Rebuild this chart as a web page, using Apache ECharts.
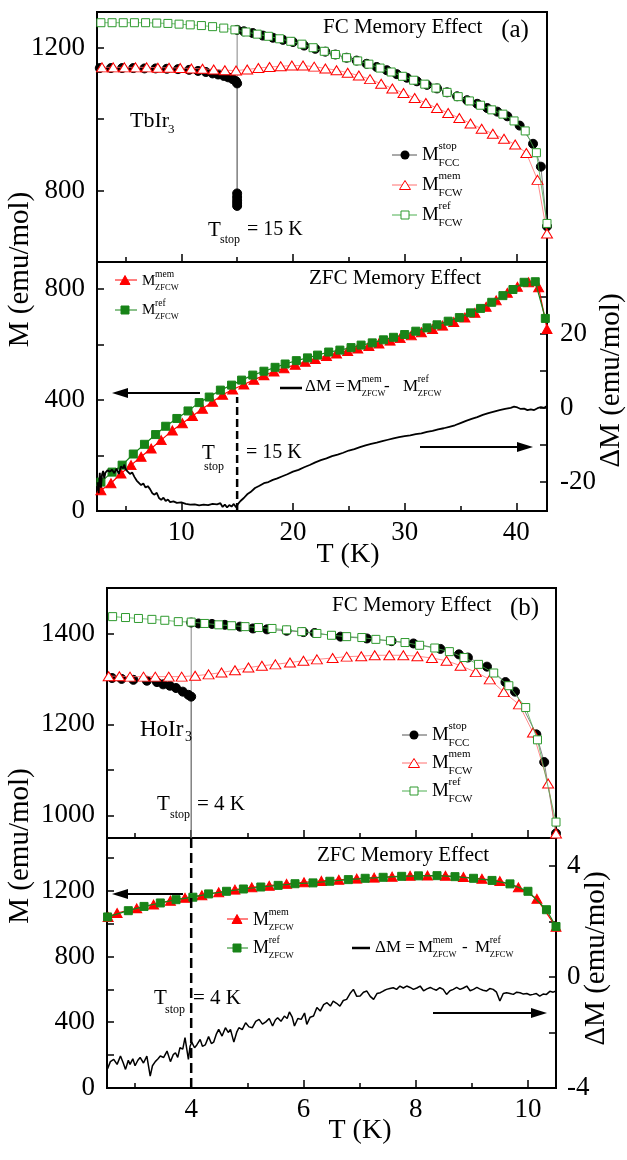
<!DOCTYPE html>
<html>
<head>
<meta charset="utf-8">
<script src="https://cdn.jsdelivr.net/npm/echarts@6/dist/echarts.min.js"></script>
<style>
  html, body { margin: 0; padding: 0; background: #fff; }
  #chart { width: 627px; height: 1160px; }
</style>
</head>
<body>
<div id="chart"></div>
<script>
// ---- panel (a) TbIr3, T in K, M in emu/mol ----
var fccA = [[2.7,1143],[3.7,1143],[4.7,1143],[5.7,1143],[6.7,1142],[7.7,1142],[8.7,1141],[9.7,1140],[10.7,1138],[11.5,1135],[12.2,1132],[12.8,1128],[13.3,1125],[13.8,1121],[14.2,1117],[14.6,1112],[14.9,1106],[15,1100],[15,792],[15,782],[15,773],[15,765],[15,757],[15,1250],[15.6,1246],[16.4,1241],[17.3,1234],[18.2,1228],[19.1,1222],[20.0,1216],[21.0,1206],[22.0,1197],[22.9,1189],[23.8,1181],[24.8,1172],[25.7,1164],[26.6,1155],[27.5,1146],[28.4,1137],[29.3,1126],[30.2,1116],[31.1,1106],[32.0,1096],[32.9,1086],[33.8,1075],[34.7,1064],[35.6,1053],[36.5,1043],[37.4,1031],[38.3,1021],[39.2,1008],[40.3,982],[41.5,931],[42.2,867],[42.75,700]];
var fcwMemA = [[2.9,1145],[3.9,1145],[4.9,1145],[5.9,1145],[6.9,1145],[7.9,1144],[8.9,1144],[9.9,1143],[10.9,1142],[11.9,1141],[12.9,1139],[13.9,1137],[14.9,1136],[15.9,1139],[16.9,1143],[17.9,1146],[18.9,1148],[19.9,1150],[20.9,1150],[21.9,1147],[22.9,1142],[23.9,1137],[24.9,1130],[25.9,1122],[26.9,1112],[27.9,1099],[28.9,1086],[29.9,1073],[30.9,1059],[31.9,1045],[32.9,1031],[33.9,1017],[34.9,1003],[35.9,988],[36.9,973],[37.9,959],[38.9,945],[39.9,929],[40.9,905],[41.9,830],[42.75,680]];
var fcwRefA = [[2.8,1270],[3.8,1270],[4.8,1270],[5.8,1270],[6.8,1270],[7.8,1269],[8.8,1268],[9.8,1266],[10.8,1264],[11.8,1262],[12.8,1259],[13.8,1255],[14.8,1250],[15.8,1244],[16.8,1238],[17.8,1232],[18.8,1225],[19.8,1218],[20.8,1210],[21.8,1200],[22.8,1190],[23.8,1181],[24.8,1172],[25.8,1163],[26.8,1154],[27.8,1143],[28.8,1132],[29.8,1120],[30.8,1109],[31.8,1098],[32.8,1087],[33.8,1075],[34.8,1063],[35.8,1051],[36.8,1039],[37.8,1026],[38.8,1014],[39.8,995],[40.8,967],[41.8,906],[42.75,708]];
var zfcMemA = [[2.8,75],[3.7,100],[4.6,135],[5.5,165],[6.4,195],[7.3,225],[8.2,255],[9.2,290],[10.1,316],[11.0,342],[11.9,368],[12.8,393],[13.7,418],[14.6,437],[15.6,455],[16.5,472],[17.4,488],[18.3,502],[19.2,514],[20.2,526],[21.1,537],[22.0,547],[23.0,558],[23.9,567],[24.9,576],[25.8,585],[26.8,594],[27.7,603],[28.7,613],[29.6,622],[30.6,632],[31.5,643],[32.5,655],[33.4,667],[34.4,680],[35.4,696],[36.3,713],[37.3,735],[38.2,758],[39.2,785],[40.1,807],[41.1,823],[42.0,805],[42.75,655]];
var zfcRefA = [[2.8,104],[3.8,140],[4.7,165],[5.7,205],[6.7,240],[7.7,275],[8.6,305],[9.6,333],[10.6,360],[11.6,390],[12.5,410],[13.5,435],[14.5,453],[15.4,471],[16.4,489],[17.4,503],[18.4,517],[19.3,529],[20.3,541],[21.3,551],[22.2,561],[23.2,572],[24.2,579],[25.2,588],[26.1,597],[27.1,605],[28.1,616],[29.0,625],[30.0,635],[31.0,647],[32.0,659],[32.9,670],[33.9,683],[34.9,696],[35.9,713],[36.8,729],[37.8,751],[38.8,775],[39.7,797],[40.7,823],[41.7,825],[42.6,693]];
var dmA = [[2.5,-20],[2.6,-23],[2.7,-17.5],[2.8,-21.5],[2.9,-18],[3.0,-17],[3.1,-19],[3.2,-17.5],[3.4,-16.8],[3.6,-17.2],[3.8,-16.7],[4.0,-17.6],[4.2,-16.4],[4.4,-17.8],[4.6,-15.8],[4.8,-16.3],[4.9,-15.3],[5.0,-16.5],[5.2,-17.2],[5.4,-17.8],[5.6,-17.4],[5.8,-18.6],[6.0,-19.6],[6.2,-20.2],[6.4,-20.8],[6.6,-20.4],[6.8,-21.5],[7.0,-21.1],[7.2,-21.9],[7.4,-23.0],[7.6,-23.4],[7.8,-22.9],[8.0,-24.3],[8.2,-24.8],[8.4,-24.2],[8.6,-25.1],[8.8,-24.7],[9.0,-25.4],[9.3,-25.2],[9.6,-25.6],[10.0,-25.5],[10.4,-25.9],[10.8,-26.1],[11.2,-26.0],[11.6,-26.3],[12.0,-26.1],[12.4,-26.2],[12.8,-25.9],[13.2,-26.0],[13.5,-25.7],[13.7,-26.7],[13.9,-26.1],[14.1,-26.8],[14.3,-26.2],[14.5,-26.6],[14.7,-25.9],[14.9,-26.8],[15.1,-25.8],[15.3,-25.1],[15.6,-24.3],[15.9,-23.3],[16.2,-22.7],[16.6,-21.6],[17.0,-21.0],[17.4,-20.3],[17.8,-20.0],[18.2,-19.4],[18.6,-19.0],[19.0,-18.5],[19.5,-17.9],[20.0,-17.2],[20.5,-16.7],[21.0,-16.0],[21.5,-15.4],[22.0,-14.7],[22.5,-14.1],[23.0,-13.6],[23.5,-13.0],[24.0,-12.6],[24.5,-12.1],[25.0,-11.5],[25.5,-11.1],[26.0,-10.6],[26.5,-10.1],[27.0,-9.7],[27.5,-9.4],[28.0,-9.0],[28.5,-8.6],[29.0,-8.2],[29.5,-7.9],[30.0,-7.6],[30.5,-7.4],[31.0,-7.1],[31.5,-6.9],[32.0,-6.5],[32.5,-6.2],[33.0,-5.8],[33.5,-5.5],[34.0,-5.1],[34.5,-4.7],[35.0,-4.1],[35.5,-3.5],[36.0,-3.0],[36.5,-2.5],[37.0,-1.9],[37.5,-1.4],[38.0,-1.0],[38.5,-0.6],[39.0,-0.3],[39.5,0.0],[39.8,0.3],[40.1,0.1],[40.4,-0.3],[40.7,-0.2],[41.0,-0.6],[41.3,-0.4],[41.6,-0.6],[41.9,-0.1],[42.2,0.2],[42.5,0.0],[42.75,0.5]];
var stopA = [[15,0],[15,410]];

// ---- panel (b) HoIr3 ----
var fccB = [[2.59,1302],[2.76,1300],[2.97,1298],[3.21,1296],[3.39,1293],[3.5,1288],[3.62,1285],[3.73,1280],[3.85,1272],[3.95,1265],[4.0,1261],[4.0,900],[4.0,1424],[4.13,1422],[4.37,1421],[4.6,1419],[4.87,1415],[5.1,1411],[5.35,1409],[5.7,1406],[6.0,1403],[6.2,1401],[6.66,1393],[7.13,1389],[7.57,1383],[7.96,1378],[8.44,1366],[8.77,1354],[8.93,1347],[9.27,1327],[9.6,1293],[9.77,1272],[10.15,1178],[10.29,1117],[10.5,960]];
var fcwMemB = [[2.53,1306],[2.72,1306],[2.91,1305],[3.15,1305],[3.36,1305],[3.6,1305],[3.83,1305],[4.07,1307],[4.31,1310],[4.54,1314],[4.78,1319],[5.02,1325],[5.26,1329],[5.5,1332],[5.76,1336],[6.0,1340],[6.24,1343],[6.52,1346],[6.77,1349],[7.03,1350],[7.27,1352],[7.53,1352],[7.78,1352],[8.03,1350],[8.29,1346],[8.55,1340],[8.8,1329],[9.07,1315],[9.32,1299],[9.57,1271],[9.84,1244],[10.09,1182],[10.36,1070],[10.5,960]];
var fcwRefB = [[2.6,1437],[2.83,1435],[3.06,1433],[3.3,1431],[3.53,1429],[3.77,1426],[4.0,1425],[4.24,1422],[4.49,1419],[4.72,1417],[4.96,1415],[5.2,1413],[5.44,1411],[5.7,1408],[5.97,1404],[6.24,1400],[6.5,1396],[6.77,1393],[7.04,1391],[7.29,1387],[7.55,1384],[7.81,1380],[8.07,1374],[8.34,1368],[8.6,1360],[8.86,1347],[9.12,1332],[9.39,1313],[9.66,1285],[9.96,1237],[10.17,1166],[10.5,985]];
var zfcMemB = [[2.52,1040],[2.68,1064],[3.03,1092],[3.33,1115],[3.63,1139],[3.89,1156],[4.19,1172],[4.49,1190],[4.78,1206],[5.08,1220],[5.39,1230],[5.7,1241],[6.01,1251],[6.32,1259],[6.63,1266],[6.95,1273],[7.26,1279],[7.58,1285],[7.9,1290],[8.21,1292],[8.53,1290],[8.85,1283],[9.18,1272],[9.5,1258],[9.83,1220],[10.16,1150],[10.5,980]];
var zfcRefB = [[2.51,1040],[2.88,1078],[3.16,1104],[3.45,1125],[3.73,1145],[4.03,1160],[4.31,1180],[4.63,1196],[4.93,1210],[5.24,1222],[5.55,1232],[5.85,1242],[6.17,1247],[6.47,1257],[6.8,1267],[7.1,1275],[7.42,1281],[7.75,1287],[8.05,1290],[8.38,1291],[8.7,1285],[9.03,1275],[9.36,1262],[9.68,1241],[10.0,1196],[10.33,1084],[10.5,982]];
var dmB = [[2.51,-3.31],[2.56,-3.05],[2.62,-2.97],[2.68,-3.15],[2.74,-2.85],[2.79,-3.1],[2.83,-3.33],[2.88,-3.0],[2.91,-3.15],[2.96,-2.95],[3.0,-3.2],[3.05,-3.0],[3.09,-2.9],[3.15,-3.1],[3.21,-2.85],[3.27,-3.57],[3.31,-3.2],[3.36,-3.05],[3.41,-2.95],[3.45,-2.85],[3.51,-2.9],[3.57,-2.67],[3.63,-3.05],[3.68,-2.8],[3.72,-2.73],[3.76,-2.9],[3.8,-2.55],[3.85,-2.6],[3.89,-2.19],[3.95,-2.97],[3.98,-2.5],[4.01,-2.35],[4.06,-2.55],[4.1,-2.45],[4.16,-2.25],[4.2,-2.5],[4.25,-2.45],[4.31,-2.15],[4.36,-2.4],[4.4,-2.35],[4.45,-2.05],[4.49,-1.89],[4.55,-2.13],[4.61,-1.83],[4.66,-2.0],[4.7,-1.89],[4.76,-2.35],[4.81,-2.0],[4.85,-1.83],[4.91,-1.9],[4.97,-1.65],[5.03,-1.8],[5.09,-1.83],[5.15,-1.6],[5.21,-1.53],[5.27,-1.7],[5.33,-1.62],[5.39,-1.5],[5.45,-1.77],[5.5,-1.55],[5.54,-1.47],[5.6,-1.6],[5.66,-1.41],[5.71,-1.5],[5.75,-1.26],[5.8,-1.45],[5.84,-1.77],[5.9,-1.5],[5.96,-1.53],[6.02,-1.3],[6.06,-1.71],[6.12,-1.45],[6.18,-1.41],[6.24,-1.1],[6.3,-1.23],[6.36,-1.0],[6.42,-0.93],[6.48,-1.05],[6.53,-0.87],[6.59,-0.95],[6.65,-1.05],[6.71,-0.85],[6.77,-0.81],[6.83,-0.6],[6.89,-0.45],[6.95,-0.7],[7.01,-0.69],[7.07,-0.55],[7.13,-0.51],[7.19,-0.7],[7.25,-0.81],[7.31,-0.6],[7.37,-0.57],[7.43,-0.5],[7.48,-0.45],[7.54,-0.42],[7.6,-0.39],[7.66,-0.45],[7.72,-0.33],[7.78,-0.4],[7.84,-0.33],[7.9,-0.38],[7.96,-0.45],[8.02,-0.4],[8.08,-0.33],[8.14,-0.5],[8.2,-0.43],[8.26,-0.38],[8.31,-0.43],[8.37,-0.48],[8.43,-0.39],[8.49,-0.45],[8.55,-0.63],[8.61,-0.5],[8.67,-0.45],[8.73,-0.38],[8.79,-0.45],[8.85,-0.4],[8.91,-0.33],[8.97,-0.5],[9.03,-0.45],[9.09,-0.38],[9.14,-0.43],[9.2,-0.48],[9.26,-0.51],[9.32,-0.42],[9.38,-0.45],[9.44,-0.55],[9.5,-0.87],[9.56,-0.6],[9.62,-0.57],[9.68,-0.6],[9.74,-0.63],[9.8,-0.55],[9.86,-0.57],[9.92,-0.62],[9.98,-0.6],[10.04,-0.65],[10.09,-0.63],[10.15,-0.6],[10.21,-0.69],[10.27,-0.62],[10.33,-0.63],[10.39,-0.52],[10.45,-0.55],[10.5,-0.51]];
var stopB = [[4,0],[4,1520]];

// tick positions
var xMajA = [10, 20, 30, 40], xMinA = [5, 15, 25, 35];
var xMajB = [4, 6, 8, 10], xMinB = [3, 5, 7, 9];

var FONT = 'Liberation Serif';
var RED = '#ff0000', GREEN = '#2e9a2e', DKGREEN = '#188418';

var chart = echarts.init(document.getElementById('chart'));

function plain(v) { return String(v); }

function xAx(grid, min, max, ticks, len, labels) {
  return {
    type: 'value', gridIndex: grid, position: 'bottom', min: min, max: max,
    axisLine: { show: false, onZero: false }, splitLine: { show: false },
    axisTick: { inside: true, length: len, customValues: ticks, lineStyle: { color: '#000', width: 1.5 } },
    axisLabel: { show: !!labels, customValues: labels || [], formatter: plain, margin: 8, color: '#000', fontFamily: FONT, fontSize: 27 }
  };
}
function yAx(grid, pos, min, max, ticks, labels, margin) {
  return {
    type: 'value', gridIndex: grid, position: pos, min: min, max: max,
    axisLine: { show: false, onZero: false }, splitLine: { show: false },
    axisTick: { inside: true, length: 7, customValues: ticks, lineStyle: { color: '#000', width: 1.5 } },
    axisLabel: { customValues: labels, formatter: plain, margin: margin, color: '#000', fontFamily: FONT, fontSize: 27, showMinLabel: true, showMaxLabel: true }
  };
}

// open / filled marker series
function mk(data, xi, yi, sym, size, fill, edge, lineColor, lw, z) {
  return {
    type: 'line', data: data, xAxisIndex: xi, yAxisIndex: yi, symbol: sym, symbolSize: size,
    itemStyle: { color: fill, borderColor: edge, borderWidth: 1 },
    lineStyle: { color: lineColor, width: lw }, z: z, animation: false, silent: true, clip: true
  };
}
function ln(data, xi, yi, w, type) {
  return {
    type: 'line', data: data, xAxisIndex: xi, yAxisIndex: yi, showSymbol: false, symbol: 'none',
    lineStyle: { color: '#000', width: w, type: type || 'solid' }, z: 5, animation: false, silent: true, clip: true
  };
}

// graphic helpers
function tx(x, y, s, size, opt) {
  opt = opt || {};
  return {
    type: 'text', x: x, y: y, rotation: opt.rot || 0, silent: true, z: 50,
    style: { text: s, fontSize: size, fontFamily: FONT, fill: '#000', align: opt.align || 'left', verticalAlign: 'middle' }
  };
}
function mLab(x, y, sup, sub, big, small, subSmall) {
  var w = big * 0.87;
  return [tx(x, y, 'M', big), tx(x + w, y - big * 0.45, sup, small), tx(x + w, y + big * 0.42, sub, subSmall || small)];
}
function legLine(x1, x2, y, color) {
  return { type: 'line', silent: true, z: 50, shape: { x1: x1, y1: y, x2: x2, y2: y }, style: { stroke: color, lineWidth: 1 } };
}
function legCircle(x, y, r) {
  return { type: 'circle', silent: true, z: 51, shape: { cx: x, cy: y, r: r }, style: { fill: '#000' } };
}
function legTri(x, y, w, h, fill, edge) {
  return { type: 'polygon', silent: true, z: 51, shape: { points: [[x, y - h / 2], [x + w / 2, y + h / 2], [x - w / 2, y + h / 2]] }, style: { fill: fill, stroke: edge, lineWidth: 1 } };
}
function legSq(x, y, s, fill, edge) {
  return { type: 'rect', silent: true, z: 51, shape: { x: x - s / 2, y: y - s / 2, width: s, height: s }, style: { fill: fill, stroke: edge, lineWidth: 1 } };
}
function arrow(x1, tip, y) {
  var d = tip > x1 ? 1 : -1;
  return [
    { type: 'line', silent: true, z: 50, shape: { x1: x1, y1: y, x2: tip - d * 12, y2: y }, style: { stroke: '#000', lineWidth: 2 } },
    { type: 'polygon', silent: true, z: 50, shape: { points: [[tip, y], [tip - d * 16, y - 5], [tip - d * 16, y + 5]] }, style: { fill: '#000' } }
  ];
}

var g = [];
var rot = { rot: Math.PI / 2, align: 'center' };
var ctr = { align: 'center' };
// panel titles
g.push(tx(402.7, 27.5, 'FC Memory Effect', 21, ctr), tx(515, 30, '(a)', 25, ctr));
g.push(tx(395, 278, 'ZFC Memory Effect', 21, ctr));
g.push(tx(411.7, 605.5, 'FC Memory Effect', 21, ctr), tx(524.5, 608, '(b)', 25, ctr));
g.push(tx(403, 855, 'ZFC Memory Effect', 21, ctr));
// compounds
g.push(tx(130, 121.5, 'TbIr', 22), tx(168, 130, '3', 13));
g.push(tx(140, 729.5, 'HoIr', 23), tx(185, 737.5, '3', 14));
// T_stop notes
g.push(tx(208, 230, 'T', 21), tx(220, 240, 'stop', 12), tx(247, 230, '= 15 K', 20));
g.push(tx(202, 453, 'T', 21), tx(204, 467, 'stop', 12), tx(246, 453, '= 15 K', 20));
g.push(tx(157, 804, 'T', 21), tx(170, 815, 'stop', 12), tx(197, 804, '= 4 K', 21));
g.push(tx(154, 998, 'T', 21), tx(165, 1010, 'stop', 12), tx(193, 998, '= 4 K', 21));
// axis titles
g.push(tx(20, 269.5, 'M (emu/mol)', 29, rot), tx(611, 380.5, 'ΔM (emu/mol)', 29, rot), tx(348, 555, 'T (K)', 28, ctr));
g.push(tx(20, 846, 'M (emu/mol)', 29, rot), tx(596.5, 958.5, 'ΔM (emu/mol)', 29, rot), tx(360, 1131, 'T (K)', 28, ctr));

// FC legends
[[0, 155, 185, 215, 392, 417, 405, 422], [1, 735, 763, 791, 402, 427, 414, 432]].forEach(function (L) {
  g.push(legLine(L[4], L[5], L[1], '#555'), legCircle(L[6], L[1], 4.5));
  g.push(legLine(L[4], L[5], L[2], '#ff7070'), legTri(L[6], L[2], 11, 9, '#fff', RED));
  g.push(legLine(L[4], L[5], L[3], '#4caf50'), legSq(L[6], L[3], 8, '#fff', GREEN));
  g = g.concat(mLab(L[7], L[1], 'stop', 'FCC', 19, 11), mLab(L[7], L[2], 'mem', 'FCW', 19, 11), mLab(L[7], L[3], 'ref', 'FCW', 19, 11));
});
// ZFC legends
g.push(legLine(115, 137, 280, RED), legTri(125, 280, 10, 9, RED, RED));
g.push(legLine(115, 137, 310, DKGREEN), legSq(125, 310, 8, DKGREEN, DKGREEN));
g = g.concat(mLab(142, 281, 'mem', 'ZFCW', 15, 9.5, 8.5), mLab(142, 310, 'ref', 'ZFCW', 15, 9.5, 8.5));
g.push(legLine(227, 248, 919, RED), legTri(237, 919, 10, 9, RED, RED));
g.push(legLine(227, 248, 948, DKGREEN), legSq(237, 948, 8, DKGREEN, DKGREEN));
g = g.concat(mLab(253, 920, 'mem', 'ZFCW', 18, 10, 9), mLab(253, 948, 'ref', 'ZFCW', 18, 10, 9));
// delta M formula
g.push({ type: 'line', silent: true, z: 50, shape: { x1: 280, y1: 388, x2: 302, y2: 388 }, style: { stroke: '#000', lineWidth: 2.5 } });
g.push(tx(305, 387, 'ΔM =', 17));
g = g.concat(mLab(347, 387, 'mem', 'ZFCW', 17, 10, 8.5));
g.push(tx(384, 387, '-', 17));
g = g.concat(mLab(403, 387, 'ref', 'ZFCW', 17, 10, 8.5));
g.push({ type: 'line', silent: true, z: 50, shape: { x1: 352, y1: 948, x2: 370, y2: 948 }, style: { stroke: '#000', lineWidth: 2.5 } });
g.push(tx(375, 948, 'ΔM =', 17));
g = g.concat(mLab(418, 948, 'mem', 'ZFCW', 17, 10, 8.5));
g.push(tx(462, 948, '-', 17));
g = g.concat(mLab(475, 948, 'ref', 'ZFCW', 17, 10, 8.5));
// arrows pointing at the axes
g = g.concat(arrow(200, 112, 393), arrow(420, 533, 447), arrow(183, 112, 894), arrow(433, 547, 1013));

var gridBase = { show: true, borderColor: '#000', borderWidth: 2, backgroundColor: 'transparent', containLabel: false };

chart.setOption({
  animation: false,
  backgroundColor: '#fff',
  grid: [
    Object.assign({ left: 97, top: 12, width: 450, height: 250 }, gridBase),
    Object.assign({ left: 97, top: 262, width: 450, height: 249 }, gridBase),
    Object.assign({ left: 107, top: 588, width: 449, height: 250 }, gridBase),
    Object.assign({ left: 107, top: 838, width: 449, height: 250 }, gridBase)
  ],
  xAxis: [
    xAx(0, 2.45, 42.75, xMajA, 8, null),
    xAx(1, 2.45, 42.75, xMajA, 8, xMajA),
    xAx(2, 2.5, 10.5, xMajB, 8, null),
    xAx(3, 2.5, 10.5, xMajB, 8, xMajB),
    xAx(0, 2.45, 42.75, xMinA, 5, null),
    xAx(1, 2.45, 42.75, xMinA, 5, null),
    xAx(2, 2.5, 10.5, xMinB, 5, null),
    xAx(3, 2.5, 10.5, xMinB, 5, null)
  ],
  yAxis: [
    yAx(0, 'left', 600, 1300, [800, 1000, 1200], [800, 1200], 12),
    yAx(1, 'left', 0, 896, [200, 400, 600, 800], [0, 400, 800], 12),
    yAx(1, 'right', -27.8, 39.3, [-20, -10, 0, 10, 20, 30], [-20, 0, 20], 13),
    yAx(2, 'left', 950, 1500, [1000, 1100, 1200, 1300, 1400], [1000, 1200, 1400], 12),
    yAx(3, 'left', 0, 1520, [200, 400, 600, 800, 1000, 1200, 1400], [0, 400, 800, 1200], 12),
    yAx(3, 'right', -4, 5, [-2, 0, 2, 4], [-4, 0, 4], 11)
  ],
  series: [
    mk(fccA, 0, 0, 'circle', 9, '#000', '#000', '#666', 0.8, 2),
    mk(fcwMemA, 0, 0, 'triangle', [11, 9], '#fff', RED, '#ff7070', 0.8, 3),
    mk(fcwRefA, 0, 0, 'rect', 8, '#fff', GREEN, '#4caf50', 0.8, 4),
    mk(zfcMemA, 1, 1, 'triangle', [10, 9], RED, RED, RED, 1.2, 3),
    mk(zfcRefA, 1, 1, 'rect', 8, DKGREEN, DKGREEN, DKGREEN, 1.2, 4),
    ln(dmA, 1, 2, 1.8),
    ln(stopA, 1, 1, 2.5, [8, 4]),
    mk(fccB, 2, 3, 'circle', 9, '#000', '#000', '#666', 0.8, 2),
    mk(fcwMemB, 2, 3, 'triangle', [11, 9], '#fff', RED, '#ff7070', 0.8, 3),
    mk(fcwRefB, 2, 3, 'rect', 8, '#fff', GREEN, '#4caf50', 0.8, 4),
    mk(zfcMemB, 3, 4, 'triangle', [10, 9], RED, RED, RED, 1.2, 3),
    mk(zfcRefB, 3, 4, 'rect', 8, DKGREEN, DKGREEN, DKGREEN, 1.2, 4),
    ln(dmB, 3, 5, 1.5),
    ln(stopB, 3, 4, 2.5, [10, 5])
  ],
  graphic: g
});
</script>
</body>
</html>
